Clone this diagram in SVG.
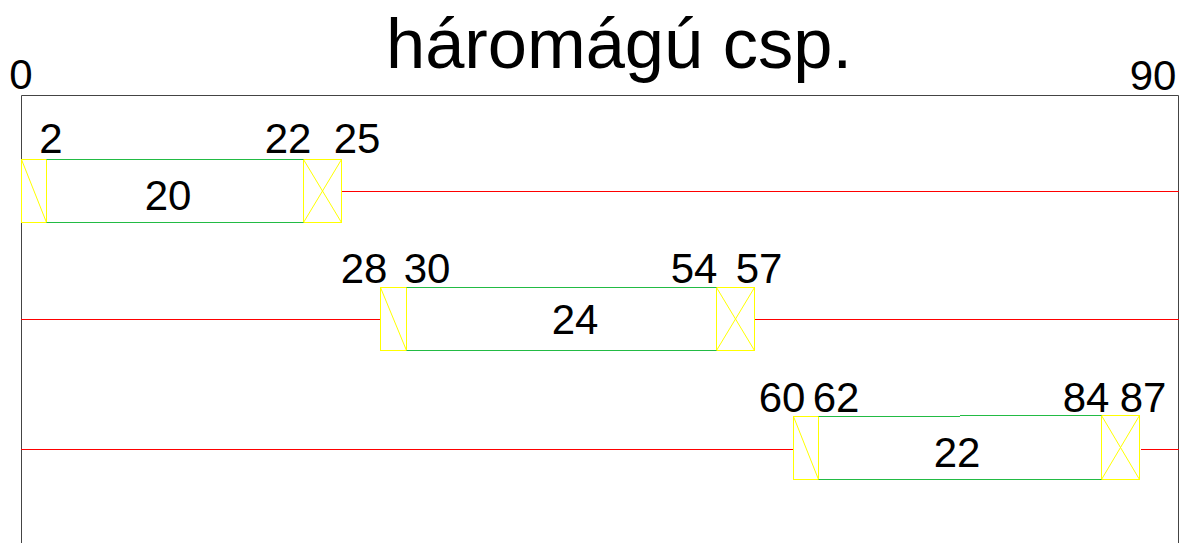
<svg xmlns="http://www.w3.org/2000/svg" width="1184" height="543" viewBox="0 0 1184 543">
<style>
text{font-family:"Liberation Sans",Arial,sans-serif;fill:#000;text-anchor:middle}
.t{font-size:70px}
.n{font-size:42px}
</style>
<rect width="1184" height="543" fill="#fff"/>
<g id="title"><text class="t" x="619" y="68" textLength="466" lengthAdjust="spacingAndGlyphs">háromágú csp.</text></g>
<g id="frame">
<path d="M21.5 543V95.5H1178.5V543" fill="none" stroke="#444444" stroke-width="1"/>
<text class="n" x="21" y="89">0</text>
<text class="n" x="1153" y="90">90</text>
</g>
<g id="connectors" fill="none" stroke="#ff0000" stroke-width="1">
<path d="M342 191.5H1179"/>
<path d="M21 319.5H380.5M754.5 319.5H1179"/>
<path d="M21 449.5H793M1141 449.5H1179"/>
</g>
<g id="row1">
<g fill="none" stroke="#ffff00" stroke-width="1">
<rect x="21.5" y="159.5" width="25" height="63"/>
<path d="M21.5 159.5L46.5 222.5"/>
<rect x="303.5" y="159.5" width="38" height="63"/>
<path d="M303.5 159.5L341.5 222.5M341.5 159.5L303.5 222.5"/>
</g>
<path d="M46.5 159.5H303.5M46.5 222.5H303.5" fill="none" stroke="#22bb44" stroke-width="1"/>
<text class="n" x="51" y="153">2</text>
<text class="n" x="288" y="153">22</text>
<text class="n" x="357" y="153">25</text>
<text class="n" x="168" y="210">20</text>
</g>
<g id="row2">
<g fill="none" stroke="#ffff00" stroke-width="1">
<rect x="380.5" y="287.5" width="26" height="63"/>
<path d="M380.5 287.5L406.5 350.5"/>
<rect x="716.5" y="287.5" width="38" height="63"/>
<path d="M716.5 287.5L754.5 350.5M754.5 287.5L716.5 350.5"/>
</g>
<path d="M406.5 287.5H716.5M406.5 350.5H716.5" fill="none" stroke="#22bb44" stroke-width="1"/>
<text class="n" x="364" y="283">28</text>
<text class="n" x="427" y="283">30</text>
<text class="n" x="694" y="283">54</text>
<text class="n" x="759" y="283">57</text>
<text class="n" x="575" y="334">24</text>
</g>
<g id="row3">
<g fill="none" stroke="#ffff00" stroke-width="1">
<rect x="793.5" y="416.5" width="25" height="63"/>
<path d="M793.5 416.5L818.5 479.5"/>
<rect x="1101.5" y="415.5" width="38" height="64"/>
<path d="M1101.5 415.5L1139.5 479.5M1139.5 415.5L1101.5 479.5"/>
</g>
<path d="M818.5 416.5H960M960 415.5H1101.5M818.5 479.5H1101.5" fill="none" stroke="#22bb44" stroke-width="1"/>
<text class="n" x="782" y="412">60</text>
<text class="n" x="836" y="412">62</text>
<text class="n" x="1086" y="412">84</text>
<text class="n" x="1143" y="412">87</text>
<text class="n" x="957" y="467">22</text>
</g>
</svg>
